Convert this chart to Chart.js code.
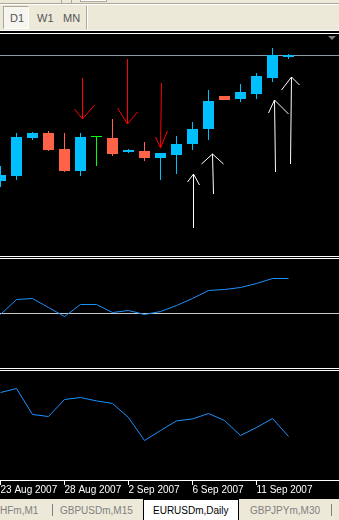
<!DOCTYPE html>
<html><head><meta charset="utf-8">
<script src="https://cdn.jsdelivr.net/npm/chart.js@4.4.1/dist/chart.umd.min.js"></script>
<style>
html,body{margin:0;padding:0;background:#000;width:339px;height:520px;overflow:hidden;font-family:"Liberation Sans",Arial,sans-serif;}
#wrap{position:relative;width:339px;height:520px;background:#000;}
.a{position:absolute;}
canvas{position:absolute;left:0;display:block;background:#000;}
.tb{font-size:11px;line-height:11px;color:#555;white-space:nowrap;}
.tab{font-size:10px;line-height:10px;color:#808080;white-space:nowrap;}
</style></head>
<body><div id="wrap">
  <!-- toolbar -->
  <div class="a" style="left:0;top:0;width:339px;height:31px;background:#ECE9D8;"></div>
  <div class="a" style="left:0;top:4px;width:339px;height:1px;background:#fff;"></div>
  <div class="a" style="left:0;top:3px;width:339px;height:1px;background:#ACA899;"></div>
  <div class="a" style="left:61px;top:0;width:1px;height:3px;background:#ACA899;"></div>
  <div class="a" style="left:71px;top:0;width:1px;height:3px;background:#ACA899;"></div>
  <div class="a" style="left:80px;top:0;width:25px;height:1px;background:#fff;border:1px solid #ACA899;border-top:none;"></div>
  <div class="a" style="left:3px;top:6px;width:24px;height:21px;background:#F6F5F0;border-top:1px solid #ACA899;border-left:1px solid #ACA899;border-bottom:1px solid #fff;border-right:1px solid #fff;"></div>
  <div class="a tb" style="left:10px;top:13px;">D1</div>
  <div class="a tb" style="left:37px;top:13px;">W1</div>
  <div class="a tb" style="left:63px;top:13px;">MN</div>
  <div class="a" style="left:86px;top:6px;width:1px;height:23px;background:#ACA899;"></div>
  <div class="a" style="left:87px;top:6px;width:1px;height:23px;background:#fff;"></div>
  <div class="a" style="left:0;top:30px;width:339px;height:1px;background:#fff;"></div>
  <div class="a" style="left:0;top:33px;width:339px;height:1px;background:#fff;"></div>

  <canvas id="c1" width="339" height="222" style="top:34px;"></canvas>
  <div class="a" style="left:328px;top:36px;width:0;height:0;border-left:4px solid transparent;border-right:4px solid transparent;border-top:4px solid #808080;"></div>
  <div class="a" style="left:0;top:256px;width:339px;height:1px;background:#fff;"></div>
  <div class="a" style="left:0;top:258px;width:339px;height:1px;background:#fff;"></div>
  <canvas id="c2" width="339" height="109" style="top:259px;"></canvas>
  <div class="a" style="left:0;top:368px;width:339px;height:1px;background:#fff;"></div>
  <div class="a" style="left:0;top:370px;width:339px;height:1px;background:#fff;"></div>
  <canvas id="c3" width="339" height="128" style="top:371px;"></canvas>

  <!-- tab bar -->
  <div class="a" style="left:0;top:499px;width:339px;height:21px;background:#ECE9D8;"></div>
  <div class="a tab" style="left:0;top:506px;">HFm,M1</div>
  <div class="a" style="left:52px;top:504px;width:1px;height:12px;background:#808080;"></div>
  <div class="a tab" style="left:60px;top:506px;">GBPUSDm,M15</div>
  <div class="a" style="left:143px;top:499px;width:94px;height:21px;background:#fff;border:1px solid #000;border-bottom:none;"></div>
  <div class="a tab" style="left:153px;top:506px;color:#000;">EURUSDm,Daily</div>
  <div class="a tab" style="left:250px;top:506px;">GBPJPYm,M30</div>
  <div class="a" style="left:331px;top:504px;width:1px;height:12px;background:#808080;"></div>
</div>
<script>
// ---------------- data ----------------
const dates = ['23 Aug 2007','24 Aug 2007','26 Aug 2007','27 Aug 2007','28 Aug 2007','29 Aug 2007','30 Aug 2007','31 Aug 2007',
  '2 Sep 2007','3 Sep 2007','4 Sep 2007','5 Sep 2007','6 Sep 2007','7 Sep 2007','9 Sep 2007','10 Sep 2007','11 Sep 2007','12 Sep 2007','13 Sep 2007'];
const tickDates = ['23 Aug 2007','28 Aug 2007','2 Sep 2007','6 Sep 2007','11 Sep 2007'];
const openP  = [1.3502,1.3517,1.3631,1.3646,1.3598,1.3532,1.3634,1.3631,1.3589,1.3592,1.3571,1.3580,1.3613,1.3658,1.3757,1.3748,1.3763,1.3811,1.3874];
const highP  = [1.3547,1.3646,1.3649,1.3652,1.3646,1.3646,1.3637,1.3688,1.3598,1.3619,1.3586,1.3637,1.3679,1.3775,1.3757,1.3793,1.3826,1.3901,1.3883];
const lowP   = [1.3484,1.3505,1.3625,1.3592,1.3529,1.3517,1.3547,1.3577,1.3586,1.3562,1.3505,1.3523,1.3595,1.3625,1.3745,1.3739,1.3748,1.3799,1.3868];
const closeP = [1.3520,1.3634,1.3646,1.3595,1.3532,1.3634,1.3634,1.3583,1.3595,1.3571,1.3586,1.3613,1.3658,1.3742,1.3745,1.3769,1.3817,1.3880,1.3880];
const momentum = [99.9,101.4,101.5,100.6,99.7,100.9,100.9,100.1,100.3,99.9,100.2,100.8,101.5,102.3,102.4,102.6,103.0,103.5,103.5];
const momentumLevel = 100;
const oscillator = [44,46,33,32,40.5,41.5,39.8,38.5,31.5,20,25,29.8,30.8,33.5,30,22.5,26.5,31,22];
// hand-drawn signal arrows, in (bar index, price) coordinates
const sellArrows = [
  {tail:[5.125,1.3811],  tip:[5.125,1.3688],  left:[4.625,1.3718],  right:[5.875,1.3730]},
  {tail:[7.9375,1.3868], tip:[7.9375,1.3673], left:[7.3125,1.3721], right:[8.5625,1.3709]},
  {tail:[10.0625,1.3796],tip:[10.0,1.3601],   left:[9.6875,1.3634], right:[10.4375,1.3652]}
];
const buyArrows = [
  {tail:[12.0625,1.3361],tip:[12.0625,1.3523],left:[11.6875,1.3499],right:[12.4375,1.3490]},
  {tail:[13.3125,1.3463],tip:[13.25,1.3583],  left:[12.5625,1.3553],right:[13.9375,1.3553]},
  {tail:[17.1875,1.3529],tip:[17.125,1.3745], left:[16.75,1.3706],  right:[18.0,1.3703]},
  {tail:[18.125,1.3553], tip:[18.1875,1.3814],left:[17.5625,1.3775],right:[18.6875,1.3790]}
];

// ---------------- styling / layout ----------------
const BULL = '#00BFFF', BEAR = '#FF6347', DOJI = '#00FF00';
const BAR_PX = 16, W = 339;
const X_MIN = -0.5 / BAR_PX, X_MAX = X_MIN + W / BAR_PX;
Chart.defaults.font.family = '"Liberation Sans", Arial, sans-serif';

const colors = closeP.map((c, i) => c > openP[i] ? BULL : (c < openP[i] ? BEAR : DOJI));
const bodies = dates.map((d, i) => ({x: i, y: [openP[i], closeP[i]]}));
const wicks  = dates.map((d, i) => ({x: i, y: [lowP[i], highP[i]]}));
function arrowPath(list) {
  const pts = [];
  list.forEach(a => {
    pts.push({x:a.left[0], y:a.left[1]}, {x:a.tip[0], y:a.tip[1]}, {x:a.right[0], y:a.right[1]}, {x:a.right[0], y:null});
    pts.push({x:a.tip[0], y:a.tip[1]}, {x:a.tail[0], y:a.tail[1]}, {x:a.tail[0], y:null});
  });
  return pts;
}
const xHidden = {type:'linear', min:X_MIN, max:X_MAX, display:false, offset:false, bounds:'data'};
const common = {
  responsive:false, animation:false, devicePixelRatio:1, events:[],
  layout:{padding:0},
  plugins:{legend:{display:false}, tooltip:{enabled:false}},
  elements:{point:{radius:0, hoverRadius:0}, line:{tension:0}}
};
const hLine = (id, valueFn, color) => ({
  id, beforeDatasetsDraw(chart) {
    const y = chart.scales.y.getPixelForValue(valueFn());
    const {left, width} = chart.chartArea;
    const ctx = chart.ctx; ctx.save(); ctx.fillStyle = color;
    ctx.fillRect(left, Math.floor(y + 1e-6), width, 1); ctx.restore();
  }
});

// ---------------- main price panel ----------------
new Chart(document.getElementById('c1'), {
  type:'bar',
  data:{datasets:[
    {type:'line', data:arrowPath(sellArrows), borderColor:'#FF0000', borderWidth:1, spanGaps:false, order:0, pointRadius:0},
    {type:'line', data:arrowPath(buyArrows), borderColor:'#FFFFFF', borderWidth:1, spanGaps:false, order:0, pointRadius:0},
    {type:'bar', data:bodies, backgroundColor:colors, barThickness:11, grouped:false, minBarLength:1, inflateAmount:0, borderWidth:0, order:1},
    {type:'bar', data:wicks, backgroundColor:colors, barThickness:1, grouped:false, inflateAmount:0, borderWidth:0, order:2}
  ]},
  options:Object.assign({}, common, {
    scales:{x:xHidden, y:{min:1.3277, max:1.3943, display:false, beginAtZero:false, bounds:'data'}}
  }),
  plugins:[hLine('bid', () => closeP[closeP.length - 1], '#8C9AA8')]
});

// ---------------- momentum panel ----------------
new Chart(document.getElementById('c2'), {
  type:'line',
  data:{datasets:[{data:momentum.map((v, i) => ({x:i, y:v})), borderColor:'#1E90FF', borderWidth:1, pointRadius:0}]},
  options:Object.assign({}, common, {
    scales:{x:xHidden, y:{min:94.55, max:105.45, display:false, bounds:'data'}}
  }),
  plugins:[hLine('level', () => momentumLevel, '#C8C8C8')]
});

// ---------------- oscillator panel + time axis ----------------
new Chart(document.getElementById('c3'), {
  type:'line',
  data:{datasets:[{data:oscillator.map((v, i) => ({x:i, y:v})), borderColor:'#1E90FF', borderWidth:1, pointRadius:0}]},
  options:Object.assign({}, common, {
    scales:{
      x:{type:'linear', min:X_MIN, max:X_MAX, offset:false, bounds:'data', position:'bottom',
        afterBuildTicks:(s) => { s.ticks = tickDates.map(d => ({value: dates.indexOf(d)})); },
        afterFit:(s) => { s.height = 19; },
        ticks:{color:'#FFFFFF', font:{size:10}, align:'start', maxRotation:0, minRotation:0, autoSkip:false, padding:-1,
          callback:(v) => dates[Math.round(v)]},
        grid:{drawOnChartArea:false, drawTicks:true, tickLength:5, color:'#FFFFFF', lineWidth:1},
        border:{display:true, color:'#FFFFFF', width:1}
      },
      y:{min:0.25, max:54.75, display:false, bounds:'data'}
    }
  })
});
</script>
</body></html>
